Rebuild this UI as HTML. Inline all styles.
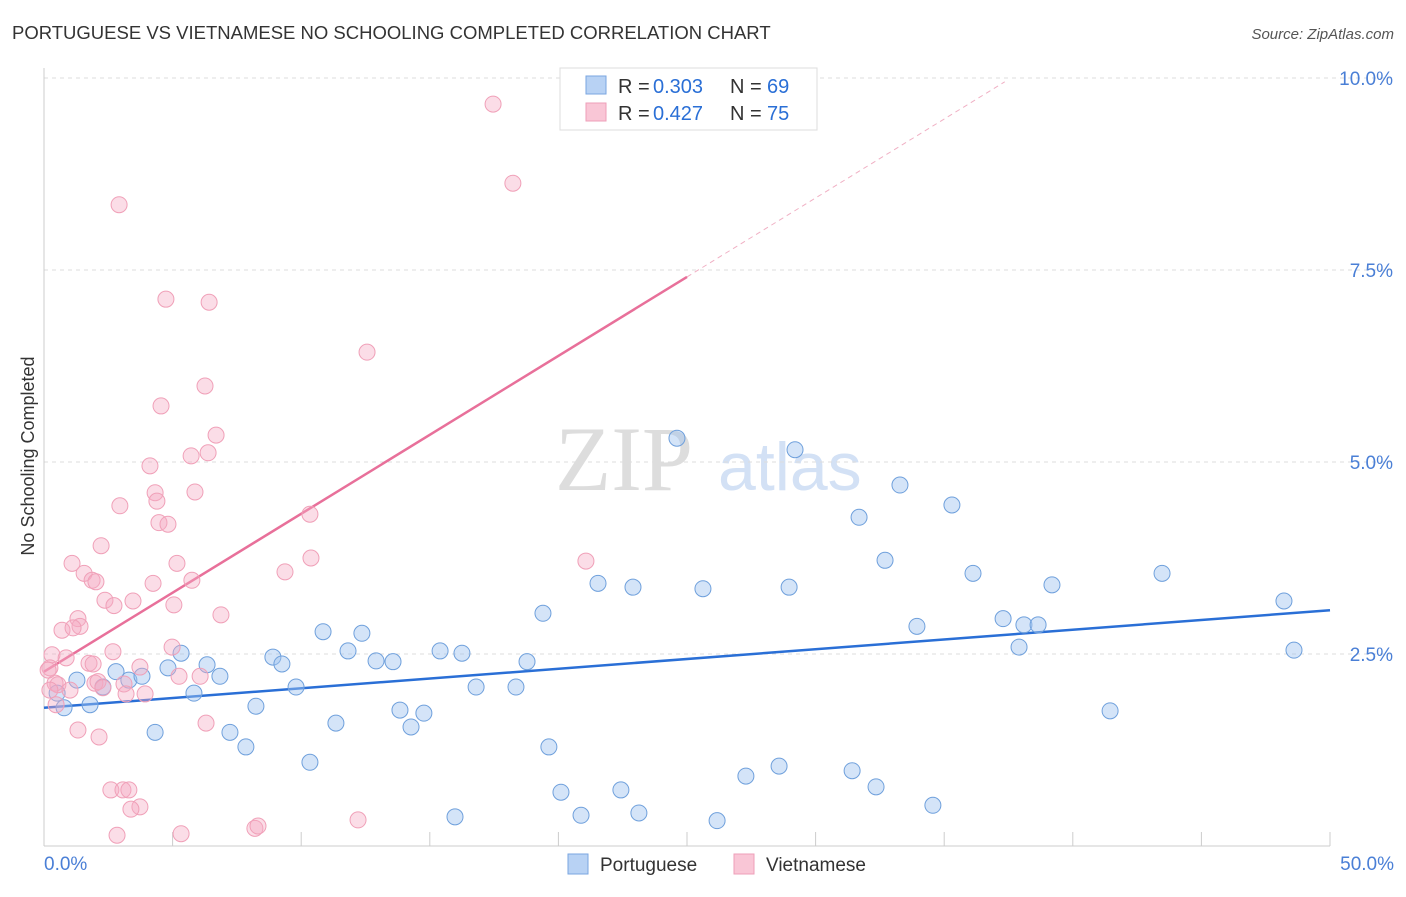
<!DOCTYPE html>
<html><head><meta charset="utf-8"><style>
body{margin:0;background:#fff;font-family:"Liberation Sans",sans-serif;}
</style></head><body>
<svg id="chart" width="1406" height="892" xmlns="http://www.w3.org/2000/svg">
<text x="12" y="39" font-size="18.5" fill="#333">PORTUGUESE VS VIETNAMESE NO SCHOOLING COMPLETED CORRELATION CHART</text>
<text x="1394" y="39" font-size="15" fill="#555" font-style="italic" text-anchor="end">Source: ZipAtlas.com</text>
<text x="34" y="456" font-size="18" fill="#333" text-anchor="middle" transform="rotate(-90 34 456)">No Schooling Completed</text>
<g>
<text x="555" y="490" font-size="92" fill="#ddd" font-family="Liberation Serif,serif">ZIP</text>
<text x="718" y="490" font-size="68" fill="#d3e1f5">atlas</text>
</g>
<g id="grid"></g>
<g id="axes"></g>
<g id="lines"></g>
<g id="points"></g>
<g>
<rect x="560" y="68" width="257" height="62" fill="#fff" stroke="#ddd"/>
<rect x="586" y="76" width="20" height="18" fill="#b8d2f4" stroke="#7aa6e0"/>
<rect x="586" y="103" width="20" height="18" fill="#f9c6d6" stroke="#ee9fb8"/>
<text x="618" y="93" font-size="20" fill="#333">R =</text>
<text x="653" y="93" font-size="20" fill="#2a6fd6">0.303</text>
<text x="730" y="93" font-size="20" fill="#333">N =</text>
<text x="767" y="93" font-size="20" fill="#2a6fd6">69</text>
<text x="618" y="120" font-size="20" fill="#333">R =</text>
<text x="653" y="120" font-size="20" fill="#2a6fd6">0.427</text>
<text x="730" y="120" font-size="20" fill="#333">N =</text>
<text x="767" y="120" font-size="20" fill="#2a6fd6">75</text>
</g>
<g>
<rect x="568" y="854" width="20" height="20" fill="#b8d2f4" stroke="#7aa6e0"/>
<text x="600" y="871" font-size="19" fill="#333">Portuguese</text>
<rect x="734" y="854" width="20" height="20" fill="#f9c6d6" stroke="#ee9fb8"/>
<text x="766" y="871" font-size="19" fill="#333">Vietnamese</text>
</g>
</svg>
<script>
const yTicks=[2.5,5.0,7.5,10.0];
const xTickLabels=["0.0%","50.0%"];
const blueX=[0.78,0.51,1.28,1.79,2.29,2.80,3.30,3.81,4.32,4.82,5.33,5.83,6.34,6.84,7.23,7.85,8.24,8.90,9.25,9.80,10.34,10.85,11.35,11.82,12.36,12.91,13.57,13.84,14.27,14.77,15.40,15.98,16.25,16.80,18.35,18.78,19.40,19.63,20.10,20.88,21.54,22.43,22.90,23.13,24.61,25.62,26.17,27.29,28.58,28.97,29.20,31.42,31.69,32.35,32.70,33.28,33.94,34.56,35.30,36.12,37.29,37.91,38.10,38.65,39.19,41.45,43.47,48.21,48.60];
const blueY=[1.80,1.99,2.16,1.84,2.07,2.27,2.16,2.21,1.48,2.32,2.51,1.99,2.36,2.21,1.48,1.29,1.82,2.46,2.37,2.07,1.09,2.79,1.60,2.54,2.77,2.41,2.40,1.77,1.55,1.73,2.54,0.38,2.51,2.07,2.07,2.40,3.03,1.29,0.70,0.40,3.42,0.73,3.37,0.43,5.31,3.35,0.33,0.91,1.04,3.37,5.16,0.98,4.28,0.77,3.72,4.70,2.86,0.53,4.44,3.55,2.96,2.59,2.88,2.88,3.40,1.76,3.55,3.19,2.55];
const pinkX=[17.46,18.23,2.92,4.74,6.42,12.56,6.26,4.55,6.69,5.72,6.38,4.12,4.32,4.39,5.87,2.95,4.47,4.82,10.34,2.22,10.38,21.07,1.09,1.56,5.17,1.87,2.02,4.24,5.75,9.37,2.37,3.46,2.72,5.05,6.88,1.32,1.40,0.70,1.13,4.98,2.68,0.31,0.86,1.75,1.91,3.73,0.23,5.25,6.07,0.43,0.54,1.01,1.98,2.10,2.29,3.11,3.19,3.93,1.32,2.14,6.30,2.60,3.07,3.30,3.73,3.38,2.84,5.33,8.20,8.32,12.21,0.16,0.23,0.47];
const pinkY=[9.66,8.63,8.35,7.12,7.08,6.43,5.99,5.73,5.35,5.08,5.12,4.95,4.60,4.49,4.61,4.43,4.21,4.19,4.32,3.91,3.75,3.71,3.68,3.55,3.68,3.46,3.44,3.42,3.46,3.57,3.20,3.19,3.13,3.14,3.01,2.96,2.86,2.81,2.84,2.59,2.53,2.49,2.45,2.38,2.37,2.33,2.32,2.21,2.21,2.12,2.10,2.03,2.12,2.14,2.06,2.11,1.98,1.98,1.51,1.42,1.60,0.73,0.73,0.73,0.51,0.48,0.14,0.16,0.23,0.26,0.34,2.29,2.03,1.84];
const blueTrend=[1.80,3.07]; // at x=0 and x=50
const pinkTrend=[2.27,7.41]; // at x=0 and x=25
const NS="http://www.w3.org/2000/svg";
const xs=v=>44+v*25.72, ys=v=>846-v*76.8;
function mk(t,a,p){const e=document.createElementNS(NS,t);for(const k in a)e.setAttribute(k,a[k]);p.appendChild(e);return e;}
const grid=document.getElementById('grid'),axes=document.getElementById('axes'),lines=document.getElementById('lines'),pts=document.getElementById('points');
yTicks.forEach(t=>{
 const l=mk('line',{x1:44,x2:1394,y1:ys(t),y2:ys(t),stroke:'#ddd','stroke-dasharray':'4,4'},grid);
 
 
 const tx=mk('text',{x:1393,y:ys(t)+7,'font-size':19,fill:'#4a7fd6','text-anchor':'end'},axes);
 tx.textContent=t.toFixed(1)+'%';
 
 
});
mk('line',{x1:44,x2:44,y1:68,y2:846,stroke:'#ccc'},axes);
mk('line',{x1:44,x2:1330,y1:846,y2:846,stroke:'#ccc'},axes);
for(let i=0;i<=10;i++){const x=xs(i*5);const t=mk('line',{x1:x,x2:x,y1:832,y2:846,stroke:'#ccc'},axes);
 
 }
const xl0=mk('text',{x:44,y:870,'font-size':19,fill:'#4a7fd6'},axes);xl0.textContent=xTickLabels[0];


const xl1=mk('text',{x:1394,y:870,'font-size':19,fill:'#4a7fd6','text-anchor':'end'},axes);xl1.textContent=xTickLabels[1];


blueX.forEach((v,i)=>{const c=mk('circle',{cx:xs(v),cy:ys(blueY[i]),r:8,fill:'rgba(160,195,240,0.45)',stroke:'#6fa0dc','stroke-width':1},pts);
 
 });
pinkX.forEach((v,i)=>{const c=mk('circle',{cx:xs(v),cy:ys(pinkY[i]),r:8,fill:'rgba(245,170,195,0.4)',stroke:'#f0a0b8','stroke-width':1},pts);
 
 });
const bl=mk('line',{x1:xs(0),y1:ys(blueTrend[0]),x2:xs(50),y2:ys(blueTrend[1]),stroke:'#2a6fd6','stroke-width':2.5},lines);


const slope=(pinkTrend[1]-pinkTrend[0])/25;
const xEnd=(9.95-pinkTrend[0])/slope;
const pd=mk('line',{x1:xs(25),y1:ys(pinkTrend[1]),x2:xs(xEnd),y2:ys(9.95),stroke:'#f0b0c4','stroke-width':1,'stroke-dasharray':'5,4'},lines);


const pl=mk('line',{x1:xs(0),y1:ys(pinkTrend[0]),x2:xs(25),y2:ys(pinkTrend[1]),stroke:'#e8709a','stroke-width':2.5},lines);


</script>
</body></html>
